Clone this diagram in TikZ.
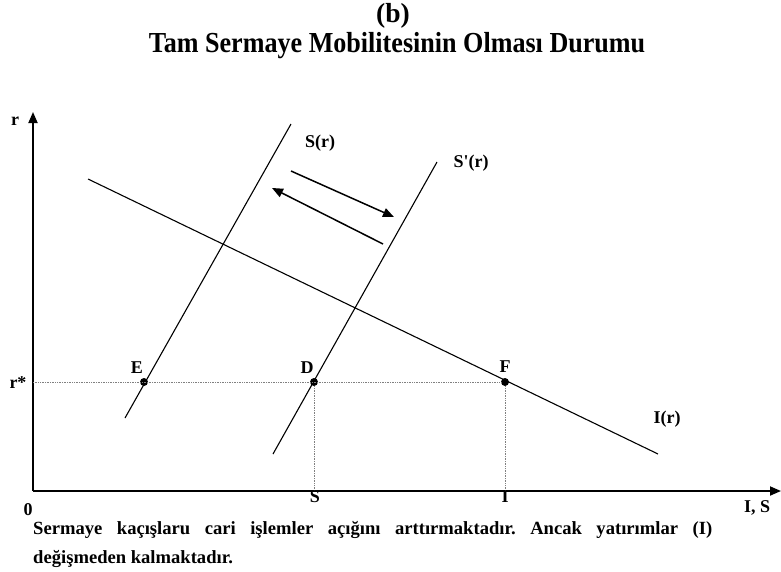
\documentclass[tikz,border=0pt]{standalone}
\usepackage{fontspec}
\setmainfont{Liberation Serif}
\usetikzlibrary{arrows.meta}
\begin{document}
\begin{tikzpicture}[x=1pt,y=-1pt,
  axis/.style={line width=1.8pt,-{Triangle[length=11pt,width=9pt]}},
  curve/.style={line width=1.1pt},
  guide/.style={densely dotted,line width=0.7pt,gray},
  shiftarrow/.style={line width=1.5pt,-{Triangle[length=11pt,width=9pt]}},
  lbl/.style={font=\bfseries\fontsize{18}{20}\selectfont,inner sep=0pt},
  eqpt/.style={circle,fill=black,inner sep=0pt,minimum size=8pt},
  ttl/.style={font=\bfseries\fontsize{29}{32}\selectfont,inner sep=0pt},
  body/.style={font=\bfseries\fontsize{18.6}{22}\selectfont,inner sep=0pt,anchor=west}]
\useasboundingbox (0,0) rectangle (781,571);
% title
\node[ttl] (tb) at (393,16) {\scalebox{0.95}{(b)}};
\node[ttl] (tt) at (397,46) {\scalebox{0.9}[1]{Tam Sermaye Mobilitesinin Olması Durumu}};
% axes
\coordinate (O) at (33,491);
\coordinate (ytip) at (33,112);
\coordinate (xtip) at (781,491);
\draw[axis] (O) -- (ytip);
\draw[axis] (O) -- (xtip);
\node[lbl] (rlab) at (15,121) {r};
\node[lbl] (zero) at (28,510) {0};
\node[lbl] (ISlab) at (757,508) {I, S};
% curves
\coordinate (s1a) at (125,418);
\coordinate (s1b) at (291,124);
\coordinate (s2a) at (273,454);
\coordinate (s2b) at (437,162);
\coordinate (i1a) at (88,179);
\coordinate (i1b) at (658,454);
\draw[curve] (s1a) -- (s1b);
\draw[curve] (s2a) -- (s2b);
\draw[curve] (i1a) -- (i1b);
\node[lbl] (Sr) at (320,143) {S(r)};
\node[lbl] (Spr) at (471,163) {S\textquotesingle(r)};
\node[lbl] (Ir) at (667,419) {I(r)};
% shift arrows
\coordinate (a1s) at (291,171);
\coordinate (a1e) at (394,217);
\coordinate (a2s) at (383,244);
\coordinate (a2e) at (272,188);
\draw[shiftarrow] (a1s) -- (a1e);
\draw[shiftarrow] (a2s) -- (a2e);
% equilibrium points
\node[eqpt] (E) at (144,382) {};
\node[eqpt] (D) at (314,382) {};
\node[eqpt] (F) at (505,382) {};
\coordinate (ry) at (33,382);
\coordinate (Sx) at (314,491);
\coordinate (Ix) at (505,491);
\draw[guide] (ry) -- (F);
\draw[guide] (D) -- (Sx);
\draw[guide] (F) -- (Ix);
\node[lbl] (Elab) at (137,368) {E};
\node[lbl] (Dlab) at (307,368) {D};
\node[lbl] (Flab) at (505,367) {F};
\node[lbl] (rstar) at (18,383) {r*};
\node[lbl] (Slab) at (315,497) {S};
\node[lbl] (Ilab) at (505,497) {I};
% text
\node[body] (line1) at (33,530) {\frenchspacing\makebox[679pt][s]{Sermaye kaçışlaru cari işlemler açığını arttırmaktadır. Ancak yatırımlar (I)}};
\node[body] (line2) at (33,559) {değişmeden kalmaktadır.};
\end{tikzpicture}
\end{document}
